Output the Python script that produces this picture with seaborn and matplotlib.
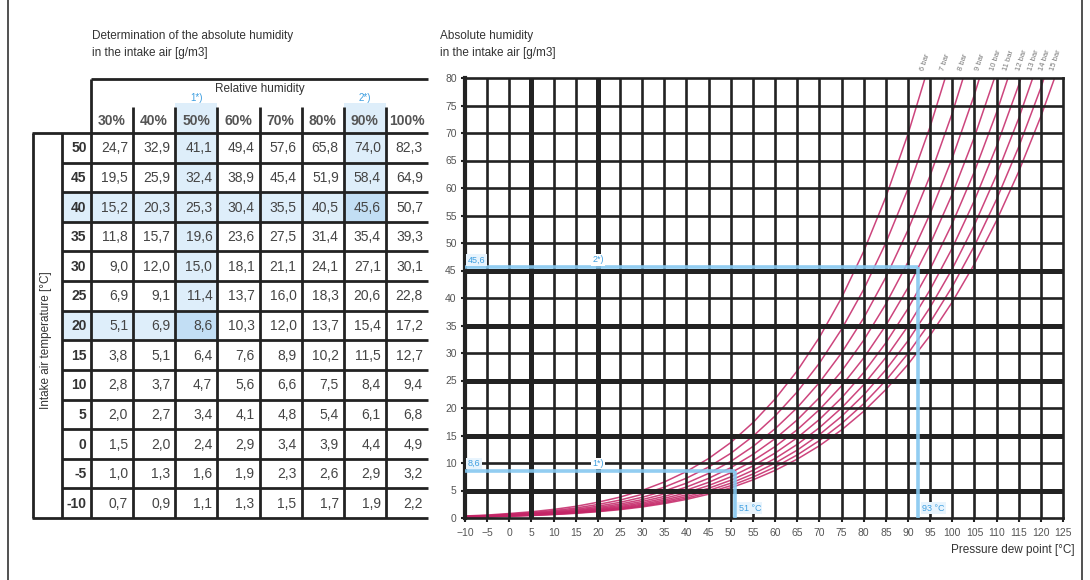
import numpy as np
import pandas as pd
import seaborn as sns
import matplotlib.pyplot as plt
from matplotlib.colors import ListedColormap

sns.set_theme(style='white')
plt.rcParams['font.family'] = ['Liberation Sans', 'DejaVu Sans']

# ---- table data (g/m3 by intake temperature and relative humidity)
temps = [50, 45, 40, 35, 30, 25, 20, 15, 10, 5, 0, -5, -10]
rel_hum = ['30%', '40%', '50%', '60%', '70%', '80%', '90%', '100%']
abs_hum = [
    [24.7, 32.9, 41.1, 49.4, 57.6, 65.8, 74.0, 82.3],
    [19.5, 25.9, 32.4, 38.9, 45.4, 51.9, 58.4, 64.9],
    [15.2, 20.3, 25.3, 30.4, 35.5, 40.5, 45.6, 50.7],
    [11.8, 15.7, 19.6, 23.6, 27.5, 31.4, 35.4, 39.3],
    [9.0, 12.0, 15.0, 18.1, 21.1, 24.1, 27.1, 30.1],
    [6.9, 9.1, 11.4, 13.7, 16.0, 18.3, 20.6, 22.8],
    [5.1, 6.9, 8.6, 10.3, 12.0, 13.7, 15.4, 17.2],
    [3.8, 5.1, 6.4, 7.6, 8.9, 10.2, 11.5, 12.7],
    [2.8, 3.7, 4.7, 5.6, 6.6, 7.5, 8.4, 9.4],
    [2.0, 2.7, 3.4, 4.1, 4.8, 5.4, 6.1, 6.8],
    [1.5, 2.0, 2.4, 2.9, 3.4, 3.9, 4.4, 4.9],
    [1.0, 1.3, 1.6, 1.9, 2.3, 2.6, 2.9, 3.2],
    [0.7, 0.9, 1.1, 1.3, 1.5, 1.7, 1.9, 2.2],
]

# ---- chart data: saturation density vs dew point, pressure curves
dew_point = [-10, -5, 0, 5, 10, 15, 20, 25, 30, 35, 40, 45, 50, 55, 60, 65,
             70, 75, 80, 85, 90, 95, 100, 105, 110, 115, 120, 125]
sat_density = [2.2, 3.2, 4.9, 6.8, 9.4, 12.7, 17.2, 22.8, 30.1, 39.3, 50.7,
               64.9, 82.3, 104.0, 129.8, 160.5, 197.0, 240.1, 290.8, 350.1,
               418.7, 498.0, 588.9, 692.7, 811.0, 944.6, 1095.0, 1264.0]
pressures = [6, 7, 8, 9, 10, 11, 12, 13, 14, 15]

# worked examples
ex_tags = ['1*)', '2*)']
ex_temp = [20, 40]
ex_rh = ['50%', '90%']
ex_dew_labels = ['51 °C', '93 °C']
ex_pressure = 10

ink = '#222222'
blue = '#86c8f0'
blue_txt = '#3f9fe0'
curve_col = '#c42466'
light = '#deeefa'
dark = '#c2def4'

W, H = 1090, 580
fig = plt.figure(figsize=(10.9, 5.8), dpi=100)

# ---- table geometry (pixels)
X_OUT, X_T, X_V, X_R = 33, 62, 91, 428
Y_TOP, Y_D, Y_B = 79, 133, 518
row_h = (Y_B - Y_D) / len(temps)
col_w = (X_R - X_V) / len(rel_hum)
Y_H = Y_D - row_h

# highlight levels
hl = np.zeros((len(temps) + 1, len(rel_hum)))
tl = np.zeros((len(temps), 1))
for t, rh in zip(ex_temp, ex_rh):
    r = temps.index(t) + 1
    c = rel_hum.index(rh)
    hl[:r + 1, c] = np.maximum(hl[:r + 1, c], 1)
    hl[r, :c + 1] = np.maximum(hl[r, :c + 1], 1)
    hl[r, c] = 2
    tl[r - 1, 0] = 1

cmap = ListedColormap(['white', light, dark])
ax_v = fig.add_axes([X_V / W, 1 - Y_B / H, (X_R - X_V) / W, (Y_B - Y_H) / H])
sns.heatmap(hl, cmap=cmap, vmin=0, vmax=2, cbar=False, xticklabels=False,
            yticklabels=False, linewidths=0, ax=ax_v)
ax_t = fig.add_axes([X_T / W, 1 - Y_B / H, (X_V - X_T) / W, (Y_B - Y_D) / H])
sns.heatmap(tl, cmap=cmap, vmin=0, vmax=2, cbar=False, xticklabels=False,
            yticklabels=False, linewidths=0, ax=ax_t)

for j, lab in enumerate(rel_hum):
    ax_v.text(j + 0.5, 0.58, lab, ha='center', va='center', fontsize=10,
              fontweight='bold', color='#555')
for i, row in enumerate(abs_hum):
    for j, v in enumerate(row):
        ax_v.text(j + 0.88, i + 1.52, f'{v:.1f}'.replace('.', ','),
                  ha='right', va='center', fontsize=10, color='#444')
    ax_t.text(0.85, i + 0.52, str(temps[i]), ha='right', va='center',
              fontsize=10, fontweight='bold', color='#333')

# ---- chart
ax = fig.add_axes([465 / W, 1 - 518 / H, 598 / W, 440 / H])
rows = []
for p in pressures:
    for t, s in zip(dew_point, sat_density):
        rows.append({'dew': t, 'ah': s / p, 'p': p})
curves = pd.DataFrame(rows)
sns.lineplot(data=curves, x='dew', y='ah', units='p', estimator=None,
             color=curve_col, lw=1.1, alpha=0.85, ax=ax, zorder=1)

ax.set_xlim(-10, 125)
ax.set_ylim(0, 80)
for v in range(-5, 125, 5):
    ax.axvline(v, color=ink, lw=3.6 if v in (5, 20) else 1.9, zorder=2)
for v in range(5, 80, 5):
    ax.axhline(v, color=ink, lw=3.6 if v in (5, 15, 25, 35, 45) else 1.9, zorder=2)
for side, sp in ax.spines.items():
    sp.set_color(ink)
    sp.set_linewidth(3.0 if side == 'left' else 1.9)
    sp.set_zorder(3)
ax.set_xticks(range(-10, 126, 5))
ax.set_yticks(range(0, 81, 5))
ax.tick_params(axis='both', length=3, width=1.5, color=ink, labelsize=7.5,
               labelcolor='#555', pad=3)
ax.tick_params(axis='x', bottom=True, pad=4)
ax.tick_params(axis='y', left=True)
ax.set_xlabel('')
ax.set_ylabel('')

box = dict(boxstyle='square,pad=0.15', fc='white', ec='none')
dbox = dict(boxstyle='square,pad=0.15', fc='#e8f4fd', ec='none')
for tag, t, rh, lbl in zip(ex_tags, ex_temp, ex_rh, ex_dew_labels):
    val = abs_hum[temps.index(t)][rel_hum.index(rh)]
    xd = np.interp(val * ex_pressure, sat_density, dew_point)
    ax.plot([-10, xd], [val, val], color=blue, lw=2.6, alpha=0.9, zorder=4,
            solid_capstyle='butt')
    ax.plot([xd, xd], [0, val], color=blue, lw=2.6, alpha=0.9, zorder=4,
            solid_capstyle='butt')
    ax.text(-9.4, val + 0.5, f'{val:.1f}'.replace('.', ','), color=blue_txt,
            fontsize=6.5, ha='left', va='bottom', bbox=dbox, zorder=5)
    ax.text(20, val + 0.5, tag, color=blue_txt, fontsize=6.5, ha='center',
            va='bottom', bbox=box, zorder=5)
    ax.text(xd + 0.9, 1.8, lbl, color=blue_txt, fontsize=6.5, ha='left',
            va='center', bbox=dbox, zorder=5)

for p in pressures:
    xc = np.interp(80 * p, sat_density, dew_point)
    ax.text(xc - 0.5, 81.3, f'{p} bar', rotation=72, rotation_mode='anchor',
            ha='left', va='center', fontsize=5.5, color='#777', clip_on=False)

# ---- overlay for table rules and titles (pixel coordinates)
ov = fig.add_axes([0, 0, 1, 1])
ov.set_xlim(0, W)
ov.set_ylim(H, 0)
ov.axis('off')
lw = 2.0
ov.hlines(Y_TOP, X_V, X_R, color=ink, lw=lw)
ov.vlines(X_V, Y_TOP, Y_B, color=ink, lw=lw)
ov.vlines([X_OUT, X_T], Y_D, Y_B, color=ink, lw=lw)
ov.hlines([Y_D, Y_B], X_OUT - 1, X_R, color=ink, lw=lw)
ov.hlines([Y_D + row_h * k for k in range(1, len(temps))], X_T, X_R,
          color=ink, lw=lw)
ov.vlines([X_V + col_w * j for j in range(1, len(rel_hum))], Y_H + 4, Y_B,
          color=ink, lw=lw)
ov.vlines([8, 1082], 0, H, color='#333', lw=1.2)

for tag, rh in zip(ex_tags, ex_rh):
    ov.text(X_V + col_w * (rel_hum.index(rh) + 0.5), 98, tag, color=blue_txt,
            fontsize=7, ha='center', va='center')

txt = dict(fontsize=8.5, color='#333', va='center')
ov.text(92, 36, 'Determination of the absolute humidity', **txt)
ov.text(92, 53, 'in the intake air [g/m3]', **txt)
ov.text(440, 36, 'Absolute humidity', **txt)
ov.text(440, 53, 'in the intake air [g/m3]', **txt)
ov.text((X_V + X_R) / 2, 89, 'Relative humidity', ha='center', **txt)
ov.text(46, 340, 'Intake air temperature [°C]', rotation=90, ha='center', **txt)
ov.text(1075, 550, 'Pressure dew point [°C]', ha='right', **txt)

fig.savefig('out.png', dpi=100)
